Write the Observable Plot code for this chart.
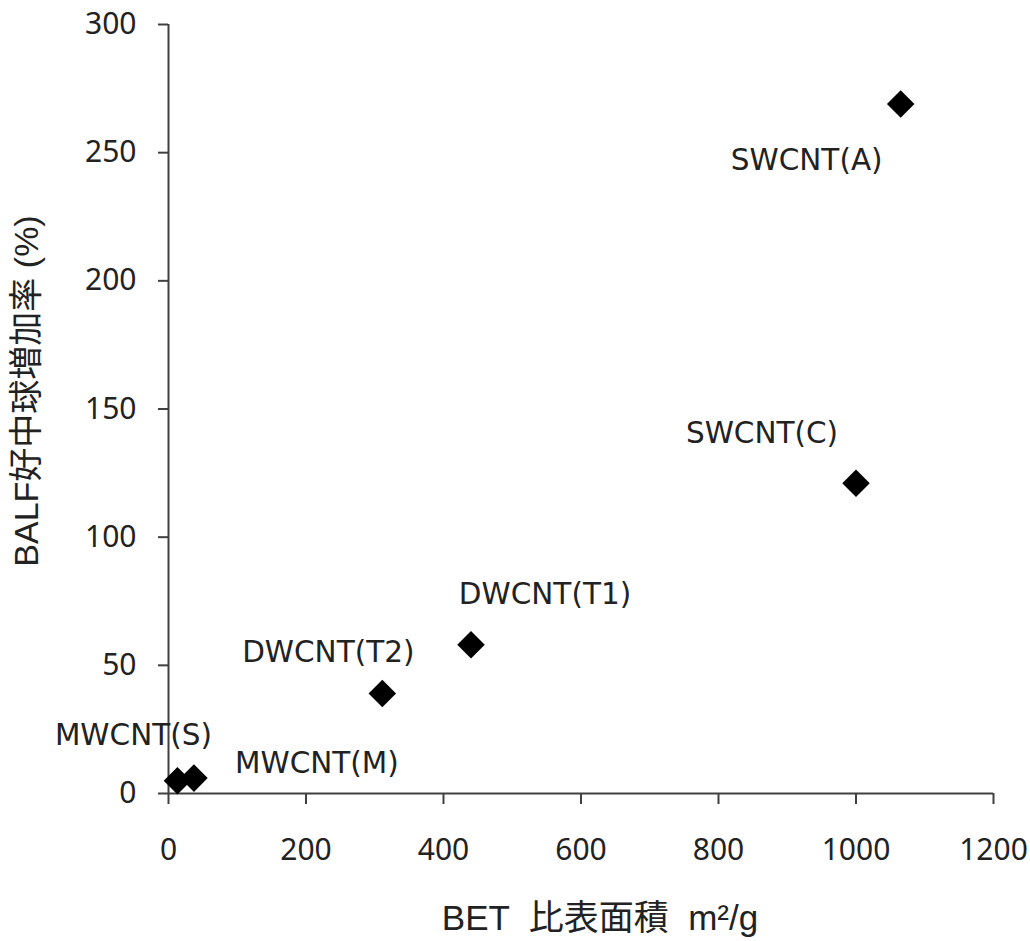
<!DOCTYPE html>
<html>
<head>
<meta charset="utf-8">
<script src="https://cdn.jsdelivr.net/npm/d3@7"></script>
<script src="https://cdn.jsdelivr.net/npm/@observablehq/plot@0.6"></script>
<style>
  html, body { margin: 0; padding: 0; background: #fff; }
  #chart svg { display: block; }
</style>
</head>
<body>
<div id="chart"></div>
<script>
// ---- data ----
const names = ["MWCNT(S)", "MWCNT(M)", "DWCNT(T2)", "DWCNT(T1)", "SWCNT(C)", "SWCNT(A)"];
const betArea = [13, 37, 311, 440, 1000, 1065];       // BET specific surface area (m2/g)
const neutroIncrease = [5, 6, 39, 58, 121, 269];       // BALF neutrophil increase (%)
const xTicks = [0, 200, 400, 600, 800, 1000, 1200];
const yTicks = [0, 50, 100, 150, 200, 250, 300];
const xLabel = "BET  比表面積  m²/g";
const yLabel = "BALF好中球増加率 (%)";

// ---- label offsets (styling) ----
const labelDx = [-44, 123, -54, 74, -94, -94];
const labelDy = [-45, -15, -41, -50, -50, 57];

const data = names.map((n, i) => ({name: n, bet: betArea[i], rate: neutroIncrease[i]}));

const labelFont = "'DejaVu Sans', 'Noto Sans CJK JP', sans-serif";
const tickFont = "'Noto Sans', 'DejaVu Sans', sans-serif";
const titleFont = "'Liberation Sans', 'Noto Sans CJK JP', sans-serif";
const axisColor = "#404040";
const textColor = "#222";

const chart = Plot.plot({
  width: 1030,
  height: 941,
  marginLeft: 168,
  marginRight: 37,
  marginTop: 24,
  marginBottom: 148,
  style: {fontFamily: labelFont, fontSize: "28px", color: textColor, background: "#fff"},
  x: {domain: [0, 1200]},
  y: {domain: [0, 300]},
  marks: [
    Plot.axisY({ticks: yTicks, tickFormat: d => String(d), tickSize: 10, tickPadding: 22, fontSize: 30, fontFamily: tickFont, label: null, stroke: axisColor, strokeWidth: 2, fill: textColor}),
    Plot.axisX({ticks: xTicks, tickFormat: d => String(d), tickSize: 11, tickPadding: 34, fontSize: 30, fontFamily: tickFont, label: null, stroke: axisColor, strokeWidth: 2, fill: textColor}),
    Plot.ruleX([0], {stroke: axisColor, strokeWidth: 2}),
    Plot.ruleY([0], {stroke: axisColor, strokeWidth: 2}),
    Plot.dot(data, {x: "bet", y: "rate", symbol: "diamond2", r: 12.4, fill: "black", stroke: "none"}),
    ...data.map((d, i) => Plot.text([d], {x: "bet", y: "rate", text: "name", dx: labelDx[i], dy: labelDy[i], fontSize: 29.5, fill: textColor})),
    Plot.text([xLabel], {frameAnchor: "bottom", text: d => d, textAnchor: "middle", lineAnchor: "middle", dx: 19, dy: 125, fontSize: 35, fontFamily: titleFont, fill: textColor}),
    Plot.text([yLabel], {frameAnchor: "left", text: d => d, textAnchor: "middle", lineAnchor: "middle", rotate: -90, dx: -141, dy: -18, fontSize: 34, fontFamily: titleFont, fill: textColor})
  ]
});

document.getElementById("chart").appendChild(chart);
</script>
</body>
</html>
